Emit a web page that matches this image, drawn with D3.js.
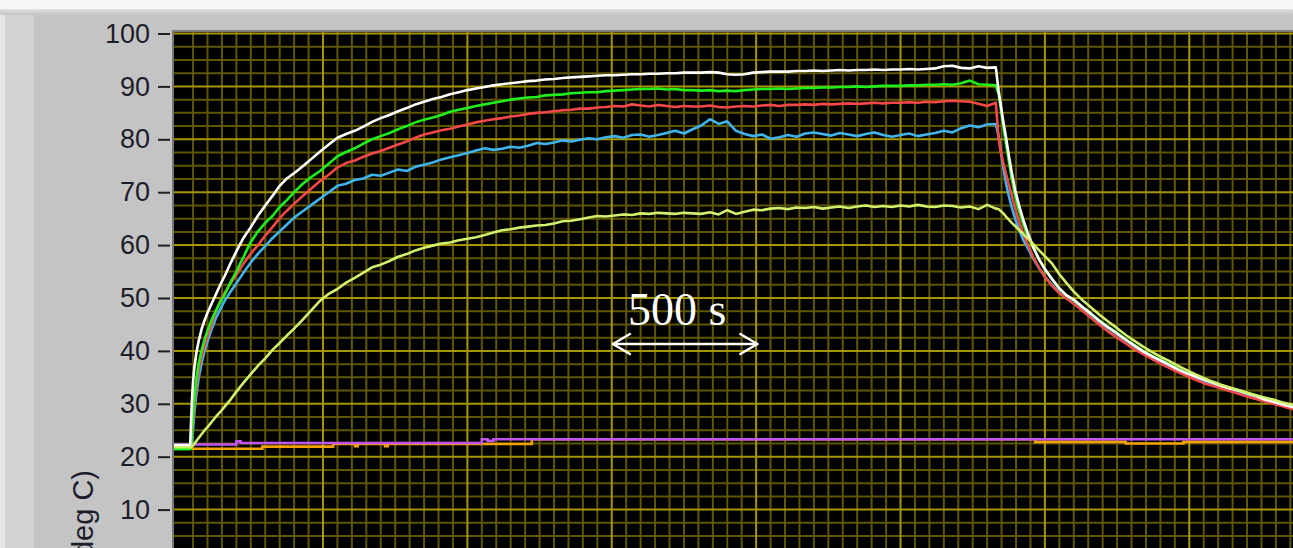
<!DOCTYPE html>
<html>
<head>
<meta charset="utf-8">
<script src="https://cdn.jsdelivr.net/npm/d3@7"></script>
<style>
  html, body { margin: 0; padding: 0; background: #c4c4c4; overflow: hidden; }
  svg { display: block; }
</style>
</head>
<body>
<svg id="chart" width="1293" height="548"></svg>
<script>
// ---- sample times (s) shared by the five heated channels ----
const timesRise = [-16, 20, 40, 43, 46, 50, 55, 62, 70, 80, 90, 100, 115, 130, 145, 160, 180, 200, 225, 250,
  275, 300, 325, 350, 375, 400, 430, 460, 490, 520, 550, 580, 610, 640, 670, 700, 730, 760, 790, 820,
  850, 880, 910, 940, 970];
const timesHold = [1000, 1030, 1060, 1090, 1120, 1150, 1180, 1210, 1240, 1270,
  1300, 1330, 1360, 1390, 1420, 1450, 1480, 1510, 1540, 1570,
  1600, 1630, 1660, 1690, 1720, 1750, 1780, 1810, 1840, 1870,
  1900, 1930, 1960, 1990, 2020, 2050, 2080, 2110, 2140, 2170,
  2200, 2230, 2260, 2290, 2320, 2350, 2380, 2410, 2440, 2470,
  2500, 2530, 2560, 2590, 2620, 2650, 2680, 2710, 2740, 2770,
  2800, 2830];
const timesCool = [2840, 2848, 2856, 2865, 2875, 2885, 2897, 2910, 2925, 2940,
  2960, 2980, 3000, 3025, 3050, 3075, 3100, 3130, 3160, 3190,
  3220, 3250, 3280, 3310, 3340, 3370, 3400, 3430, 3460, 3490,
  3520, 3550, 3580, 3610, 3640, 3670, 3700, 3730, 3760, 3790,
  3820, 3850, 3884];
const sampleTimes = timesRise.concat(timesHold, timesCool);

// ---- temperatures (deg C), one value per sample time ----
const tempWhite = [
  22.2, 22.2, 22.2, 26.5, 30.5, 34.3, 37.0, 39.8, 42.0, 44.2,
  45.8, 47.2, 49.0, 50.8, 52.6, 54.2, 56.6, 58.8, 61.4, 63.4,
  65.6, 67.5, 69.3, 71.2, 72.6, 73.6, 74.9, 76.3, 77.7, 79.0,
  80.3, 81.0, 81.6, 82.4, 83.3, 84.0, 84.6, 85.3, 85.9, 86.6,
  87.1, 87.6, 88.0, 88.5, 88.9,
  89.3, 89.6, 89.9, 90.2, 90.4, 90.6, 90.8, 91.0, 91.1, 91.3,
  91.4, 91.6, 91.7, 91.8, 91.9, 92.0, 92.1, 92.1, 92.2, 92.3,
  92.3, 92.4, 92.4, 92.5, 92.5, 92.6, 92.6, 92.6, 92.7, 92.6,
  92.3, 92.2, 92.3, 92.6, 92.7, 92.8, 92.8, 92.8, 92.9, 92.9,
  93.0, 92.9, 93.0, 93.1, 93.0, 93.1, 93.1, 93.2, 93.1, 93.2,
  93.2, 93.3, 93.2, 93.3, 93.4, 93.8, 93.9, 93.5, 93.4, 93.8,
  93.5, 93.6,
  89.0, 86.2, 83.3, 80.5, 77.0, 73.8, 70.4, 67.6, 64.8, 62.4,
  59.6, 57.3, 55.5, 53.6, 51.8, 50.5, 49.7, 48.3, 47.0, 45.6,
  44.4, 43.3, 42.1, 41.0, 39.9, 39.0, 38.2, 37.4, 36.5, 35.8,
  35.2, 34.6, 34.0, 33.4, 32.9, 32.5, 32.0, 31.5, 30.8, 30.4,
  29.9, 29.5, 29.0];

const tempGreen = [
  21.4, 21.4, 21.4, 21.6, 24.5, 28.0, 31.5, 35.0, 37.8, 40.2,
  42.2, 43.8, 46.0, 47.7, 49.3, 50.7, 53.0, 55.0, 57.8, 60.6,
  62.6, 64.2, 65.5, 67.2, 68.5, 70.0, 71.6, 72.9, 74.0, 75.4,
  76.8, 77.6, 78.3, 79.2, 80.0, 80.6, 81.2, 81.9, 82.5, 83.2,
  83.7, 84.1, 84.6, 85.2, 85.6,
  85.9, 86.3, 86.6, 86.9, 87.2, 87.5, 87.7, 87.9, 88.0, 88.3,
  88.4, 88.5, 88.7, 88.8, 88.9, 88.9, 89.1, 89.2, 89.3, 89.4,
  89.5, 89.5, 89.6, 89.4, 89.5, 89.3, 89.3, 89.2, 89.3, 89.1,
  89.2, 89.1, 89.3, 89.4, 89.5, 89.5, 89.6, 89.5, 89.6, 89.7,
  89.7, 89.8, 89.8, 89.9, 89.9, 90.0, 89.9, 90.0, 90.1, 90.1,
  90.1, 90.2, 90.2, 90.3, 90.3, 90.4, 90.3, 90.6, 91.1, 90.4,
  90.3, 90.2,
  88.5, 85.5, 82.5, 79.3, 76.0, 72.6, 69.3, 66.6, 64.0, 61.8,
  59.4, 57.2, 55.4, 53.5, 51.8, 50.5, 49.6, 48.3, 47.0, 45.7,
  44.5, 43.4, 42.2, 41.1, 40.0, 39.1, 38.3, 37.5, 36.6, 35.9,
  35.3, 34.7, 34.1, 33.5, 33.0, 32.6, 32.1, 31.6, 31.1, 30.7,
  30.2, 29.8, 29.3];

const tempRed = [
  21.7, 21.7, 21.7, 21.8, 23.5, 26.5, 30.0, 33.5, 36.5, 39.0,
  41.0, 42.8, 45.2, 47.6, 49.6, 51.0, 52.8, 54.4, 56.5, 58.4,
  60.0, 61.8, 63.4, 65.1, 66.5, 67.8, 69.3, 70.7, 72.1, 73.3,
  74.7, 75.5, 76.0, 76.7, 77.3, 77.8, 78.4, 79.0, 79.6, 80.3,
  80.9, 81.3, 81.7, 82.0, 82.4,
  82.8, 83.2, 83.5, 83.8, 84.0, 84.3, 84.5, 84.8, 85.0, 85.1,
  85.3, 85.5, 85.6, 85.8, 85.8, 86.0, 86.1, 86.3, 86.2, 86.6,
  86.4, 86.2, 86.5, 86.3, 86.1, 86.3, 86.2, 86.2, 86.4, 86.1,
  86.0, 86.2, 86.3, 86.2, 86.4, 86.5, 86.3, 86.5, 86.5, 86.6,
  86.5, 86.7, 86.6, 86.7, 86.8, 86.7, 86.8, 86.9, 86.8, 86.9,
  86.9, 87.0, 86.9, 87.1, 87.0, 87.2, 87.3, 87.2, 87.1, 86.7,
  86.3, 86.9,
  80.0, 77.5, 75.5, 73.5, 71.5, 69.5, 67.0, 64.6, 62.2, 60.2,
  57.7, 55.7, 54.0, 52.3, 50.9, 49.9, 48.9, 47.6, 46.2, 44.9,
  43.6, 42.5, 41.4, 40.3, 39.4, 38.5, 37.6, 36.8, 36.0, 35.3,
  34.6, 33.9, 33.4, 32.9, 32.4, 31.9, 31.4, 30.9, 30.5, 30.0,
  29.6, 29.1, 28.7];

const tempBlue = [
  21.8, 21.8, 21.8, 21.9, 22.5, 25.0, 28.5, 32.0, 35.0, 37.8,
  40.0, 41.8, 44.2, 46.3, 48.0, 49.5, 51.2, 52.8, 54.8, 56.7,
  58.4, 59.8, 61.3, 62.6, 63.9, 65.2, 66.4, 67.6, 68.8, 70.0,
  71.2, 71.6, 72.3, 72.6, 73.3, 73.1, 73.7, 74.3, 74.0, 74.8,
  75.2, 75.6, 76.2, 76.6, 77.0,
  77.4, 77.9, 78.3, 78.0, 78.2, 78.6, 78.4, 78.8, 79.3, 79.1,
  79.4, 79.8, 79.6, 79.9, 80.2, 80.0, 80.4, 80.6, 80.3, 80.8,
  80.9, 80.5, 80.8, 81.2, 81.6, 81.1, 81.9, 82.6, 83.8, 82.9,
  83.4, 81.6, 81.0, 80.6, 80.9, 80.1, 80.4, 80.8, 80.5, 81.1,
  81.3, 81.0, 80.7, 81.2, 80.9, 80.6, 81.0, 81.3, 80.8, 80.5,
  80.8, 81.1, 80.6, 80.9, 81.2, 81.6, 81.3, 82.1, 82.6, 82.3,
  82.8, 82.9,
  80.5, 77.5, 74.6, 71.8, 69.3, 67.2, 65.0, 63.0, 61.0, 59.5,
  57.4, 55.6, 54.0, 52.5, 51.0, 49.9, 49.0, 47.7, 46.3, 45.0,
  43.7, 42.6, 41.5, 40.4, 39.6, 38.7, 37.8, 37.0, 36.2, 35.5,
  34.8, 34.1, 33.6, 33.1, 32.6, 32.1, 31.6, 31.1, 30.7, 30.3,
  29.9, 29.4, 29.0];

const tempLime = [
  21.8, 21.8, 21.8, 21.8, 21.9, 22.1, 22.5, 23.0, 23.6, 24.3,
  25.0, 25.6, 26.6, 27.6, 28.5, 29.5, 30.8, 32.3, 34.0, 35.6,
  37.2, 38.6, 40.2, 41.5, 42.9, 44.2, 45.9, 47.7, 49.5, 50.8,
  51.7, 52.9, 53.8, 54.8, 55.8, 56.3, 57.0, 57.8, 58.3, 59.0,
  59.5, 59.9, 60.3, 60.5, 60.9,
  61.2, 61.5, 61.9, 62.4, 62.8, 63.0, 63.3, 63.5, 63.7, 63.8,
  64.1, 64.5, 64.6, 64.9, 65.2, 65.5, 65.4, 65.6, 65.8, 65.7,
  66.0, 65.9, 66.1, 66.0, 65.9, 66.1, 66.0, 65.9, 66.2, 65.8,
  66.6, 65.9, 66.3, 66.7, 66.6, 66.9, 67.0, 66.8, 67.1, 67.0,
  67.2, 66.9, 67.1, 67.3, 67.0, 67.3, 67.5, 67.2, 67.4, 67.2,
  67.5, 67.3, 67.6, 67.3, 67.2, 67.5, 67.4, 67.1, 67.3, 66.8,
  67.6, 66.9,
  66.8, 66.4, 66.0, 65.4, 64.8, 64.2, 63.6, 62.9, 62.1, 61.3,
  60.2, 59.0, 57.9, 56.5, 54.5, 52.8, 51.2, 49.6, 48.2, 46.8,
  45.5, 44.3, 43.0, 41.9, 40.8, 39.8, 38.9, 38.1, 37.2, 36.4,
  35.6, 34.9, 34.2, 33.6, 33.1, 32.6, 32.1, 31.6, 31.2, 30.8,
  30.3, 29.9, 29.4];

// ---- ambient channels, logged as steps ----
const ambientPurpleTimes = [-16, 200, 215, 1050, 1070, 1090, 3884];
const ambientPurple      = [22.3, 22.9, 22.6, 23.3, 23.0, 23.3, 23.3];
const ambientOrangeTimes = [-16, 290, 535, 611, 620, 715, 724, 1223, 2966, 3280, 3480, 3884];
const ambientOrange      = [21.5, 21.9, 22.4, 22.0, 22.4, 22.0, 22.4, 23.3, 22.8, 22.5, 22.8, 22.8];

// ---- axis ----
const yTickValues = [10, 20, 30, 40, 50, 60, 70, 80, 90, 100];
const yAxisTitle = "Temperature (deg C)";

// scale-bar annotation
const scaleBarFrom = 1504, scaleBarTo = 2004;
const scaleBarText = "500 s";

// ------------------------------------------------------------------
const svg = d3.select("#chart");
const W = 1293, H = 548;
const plotLeft = 174, plotTop = 32, plotRight = 1301, plotBottom = 563;

const x = d3.scaleLinear().domain([-16, 3884]).range([174, 174 + 3900 * 0.28876]);
const y = d3.scaleLinear().domain([0, 100]).range([562.5, 33.5]);

// panel background
const defs = svg.append("defs");
const topGrad = defs.append("linearGradient").attr("id", "topGrad").attr("x1", 0).attr("x2", 0).attr("y1", 0).attr("y2", 1);
topGrad.append("stop").attr("offset", "0%").attr("stop-color", "#e2e2e2");
topGrad.append("stop").attr("offset", "100%").attr("stop-color", "#c4c4c4");

svg.append("rect").attr("width", W).attr("height", H).attr("fill", "#c4c4c4");
svg.append("rect").attr("x", 0).attr("y", 0).attr("width", 34).attr("height", H).attr("fill", "#d3d3d3");
svg.append("rect").attr("x", 0).attr("y", 0).attr("width", 5).attr("height", H).attr("fill", "#e6e6e6");
svg.append("rect").attr("x", 0).attr("y", 9).attr("width", W).attr("height", 6).attr("fill", "url(#topGrad)");
svg.append("rect").attr("x", 0).attr("y", 0).attr("width", W).attr("height", 9).attr("fill", "#f6f6f6");

// plot area
defs.append("clipPath").attr("id", "plotClip")
  .append("rect").attr("x", plotLeft).attr("y", plotTop)
  .attr("width", plotRight - plotLeft).attr("height", plotBottom - plotTop);

svg.append("rect").attr("x", plotLeft).attr("y", plotTop)
  .attr("width", plotRight - plotLeft).attr("height", plotBottom - plotTop)
  .attr("fill", "#000");

const plot = svg.append("g").attr("clip-path", "url(#plotClip)");

// grid: minor every 50 s / 2.5 deg, major every 500 s / 10 deg
const xMinor = d3.range(0, 3884, 50);
const yMinor = d3.range(0, 100.1, 2.5);
const gridMinor = "#5e5700", gridMajor = "#a59600";

plot.append("g").selectAll("line").data(xMinor.filter(t => t % 500 !== 0)).join("line")
  .attr("x1", d => x(d)).attr("x2", d => x(d)).attr("y1", plotTop).attr("y2", plotBottom)
  .attr("stroke", gridMinor).attr("stroke-width", 2);
plot.append("g").selectAll("line").data(yMinor.filter(v => v % 10 !== 0)).join("line")
  .attr("x1", plotLeft).attr("x2", plotRight).attr("y1", d => y(d)).attr("y2", d => y(d))
  .attr("stroke", gridMinor).attr("stroke-width", 2);
plot.append("g").selectAll("line").data(xMinor.filter(t => t % 500 === 0 && t > 0)).join("line")
  .attr("x1", d => x(d)).attr("x2", d => x(d)).attr("y1", plotTop).attr("y2", plotBottom)
  .attr("stroke", gridMajor).attr("stroke-width", 2);
plot.append("g").selectAll("line").data(yMinor.filter(v => v % 10 === 0)).join("line")
  .attr("x1", plotLeft).attr("x2", plotRight).attr("y1", d => y(d)).attr("y2", d => y(d))
  .attr("stroke", gridMajor).attr("stroke-width", 2);

// traces
const line = d3.line().x(d => x(d[0])).y(d => y(d[1]));
const stepLine = d3.line().x(d => x(d[0])).y(d => y(d[1])).curve(d3.curveStepAfter);

const ambient = [
  { t: ambientOrangeTimes, v: ambientOrange, color: "#f5a300" },
  { t: ambientPurpleTimes, v: ambientPurple, color: "#c155f2" }
];
ambient.forEach(s => {
  plot.append("path").datum(d3.zip(s.t, s.v)).attr("d", stepLine)
    .attr("fill", "none").attr("stroke", s.color).attr("stroke-width", 2.6);
});

const heated = [
  { v: tempBlue,  color: "#3fb4ee" },
  { v: tempRed,   color: "#f64848" },
  { v: tempGreen, color: "#1ef01e" },
  { v: tempWhite, color: "#ffffff" },
  { v: tempLime,  color: "#d2f06e" }
];
heated.forEach(s => {
  plot.append("path").datum(d3.zip(sampleTimes, s.v)).attr("d", line)
    .attr("fill", "none").attr("stroke", s.color).attr("stroke-width", 2.6)
    .attr("stroke-linejoin", "round");
});

// plot frame
svg.append("line").attr("x1", plotLeft - 1).attr("x2", plotLeft - 1).attr("y1", plotTop - 1).attr("y2", H)
  .attr("stroke", "#767676").attr("stroke-width", 2);
svg.append("line").attr("x1", plotLeft - 2).attr("x2", W).attr("y1", plotTop - 1).attr("y2", plotTop - 1)
  .attr("stroke", "#7c7c7c").attr("stroke-width", 2);

// y axis
const yAxis = d3.axisLeft(y).tickValues(yTickValues).tickSize(12).tickPadding(8).tickFormat(d3.format("d"));
svg.append("g").attr("transform", "translate(170,0)").call(yAxis)
  .call(g => g.select(".domain").remove())
  .call(g => g.selectAll(".tick line").attr("stroke", "#202020").attr("stroke-width", 2))
  .call(g => g.selectAll(".tick text")
    .attr("font-family", "'Liberation Sans', Arial, sans-serif")
    .attr("font-size", 27).attr("fill", "#1e1e2a"));

svg.append("text")
  .attr("transform", "translate(93,470) rotate(-90)")
  .attr("text-anchor", "end")
  .attr("font-family", "'Liberation Sans', Arial, sans-serif")
  .attr("font-size", 29).attr("fill", "#1e1e2a")
  .text(yAxisTitle);

// scale bar: double-headed arrow spanning 500 s
const ay = 344, ax0 = x(scaleBarFrom), ax1 = x(scaleBarTo);
const arrow = svg.append("g").attr("stroke", "#fff").attr("stroke-width", 2.5).attr("fill", "none")
  .attr("stroke-linecap", "round").attr("stroke-linejoin", "round");
arrow.append("line").attr("x1", ax0).attr("x2", ax1).attr("y1", ay).attr("y2", ay);
arrow.append("path").attr("d", `M${ax0 + 17},${ay - 10} L${ax0},${ay} L${ax0 + 17},${ay + 10}`);
arrow.append("path").attr("d", `M${ax1 - 17},${ay - 10} L${ax1},${ay} L${ax1 - 17},${ay + 10}`);

svg.append("text")
  .attr("x", ax0 + 15).attr("y", 325)
  .attr("font-family", "'Liberation Serif', 'Times New Roman', serif")
  .attr("font-size", 46).attr("fill", "#fff")
  .text(scaleBarText);
</script>
</body>
</html>
